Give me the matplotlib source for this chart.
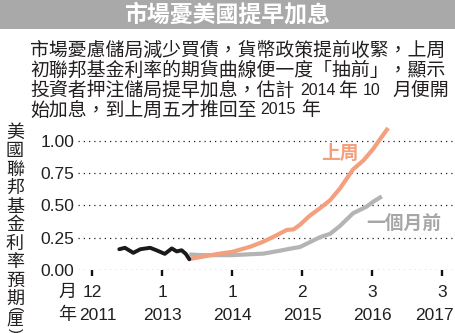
import matplotlib
matplotlib.use("Agg")
import matplotlib.pyplot as plt
from matplotlib.patches import Rectangle
from matplotlib.transforms import ScaledTranslation

plt.rcParams['font.family'] = ['Liberation Sans', 'Noto Sans CJK TC', 'DejaVu Sans']

# ---------------- data ----------------
title = "市場憂美國提早加息"
subtitle_line1 = "市場憂慮儲局減少買債，貨幣政策提前收緊，上周"
subtitle_line2 = "初聯邦基金利率的期貨曲線便一度「抽前」，顯示"
subtitle_line3 = ["投資者押注儲局提早加息，估計", "2014", "年", "10", "月便開"]
subtitle_line4 = ["始加息，到上周五才推回至", "2015", "年"]
ylabel_main = "美國聯邦基金利率預期"
ylabel_unit = "厘"

tick_pos = [0, 1, 2, 3, 4, 5]
tick_months = ["12", "1", "1", "2", "3", "3"]
tick_years = ["2011", "2013", "2014", "2015", "2016", "2017"]
yticks = [0.0, 0.25, 0.5, 0.75, 1.0]

hist_x = [0.39, 0.47, 0.59, 0.69, 0.83, 0.92, 1.04, 1.14, 1.21, 1.28, 1.34, 1.39]
hist_y = [0.161, 0.172, 0.133, 0.161, 0.172, 0.153, 0.125, 0.167, 0.144, 0.153, 0.125, 0.083]

last_week_x = [1.39, 1.6, 1.8, 2.0, 2.26, 2.45, 2.64, 2.78, 2.88, 2.97, 3.11, 3.26,
               3.40, 3.54, 3.73, 3.88, 4.02, 4.11, 4.23]
last_week_y = [0.085, 0.105, 0.125, 0.14, 0.18, 0.22, 0.27, 0.31, 0.315, 0.35, 0.42, 0.48,
               0.54, 0.63, 0.78, 0.85, 0.94, 1.01, 1.10]

month_ago_x = [1.39, 1.6, 2.0, 2.45, 2.69, 2.83, 2.97, 3.11, 3.26, 3.40, 3.54, 3.73,
               3.92, 4.02, 4.14]
month_ago_y = [0.12, 0.115, 0.115, 0.127, 0.15, 0.165, 0.178, 0.215, 0.255, 0.28, 0.34, 0.44,
               0.49, 0.53, 0.57]

label_last_week = "上周"
label_month_ago = "一個月前"

# ---------------- style ----------------
W, H = 455, 333
ORANGE = '#F4A07E'
GRAY = '#B4B4B4'
GRAY_TXT = '#A6A6A6'
TXT = '#231F20'
CJK = ['Noto Sans CJK TC', 'DejaVu Sans']
MIX = ['Liberation Sans', 'Noto Sans CJK TC', 'DejaVu Sans']
SUB_FS = 13.6
NUM_FS = 11.5


def fx(x):
    return x / W


def fy(y):
    return 1 - y / H


fig = plt.figure(figsize=(W / 100, H / 100), dpi=100)
fig.patch.set_facecolor('white')

# title bar
fig.patches.append(Rectangle((0, fy(29)), 1, 29 / H, transform=fig.transFigure,
                             facecolor='#A9A9A9', edgecolor='none', zorder=0))
fig.text(fx(227), fy(15), title, color='white', fontsize=16.5, fontweight='bold',
         family=CJK, ha='center', va='center')

# subtitle
fig.text(fx(30), fy(50.5), subtitle_line1, color=TXT, fontsize=SUB_FS, family=CJK,
         ha='left', va='center')
fig.text(fx(30), fy(70.3), subtitle_line2, color=TXT, fontsize=SUB_FS, family=CJK,
         ha='left', va='center')
y3 = 90.1
fig.text(fx(30), fy(y3), subtitle_line3[0], color=TXT, fontsize=SUB_FS, family=CJK,
         ha='left', va='center')
fig.text(fx(318), fy(y3), subtitle_line3[1], color=TXT, fontsize=NUM_FS, family=MIX,
         ha='center', va='center')
fig.text(fx(348), fy(y3), subtitle_line3[2], color=TXT, fontsize=SUB_FS, family=CJK,
         ha='center', va='center')
fig.text(fx(372), fy(y3), subtitle_line3[3], color=TXT, fontsize=NUM_FS, family=MIX,
         ha='center', va='center')
fig.text(fx(392), fy(y3), subtitle_line3[4], color=TXT, fontsize=SUB_FS, family=CJK,
         ha='left', va='center')
y4 = 109.9
fig.text(fx(30), fy(y4), subtitle_line4[0], color=TXT, fontsize=SUB_FS, family=CJK,
         ha='left', va='center')
fig.text(fx(278), fy(y4), subtitle_line4[1], color=TXT, fontsize=NUM_FS, family=MIX,
         ha='center', va='center')
fig.text(fx(311), fy(y4), subtitle_line4[2], color=TXT, fontsize=SUB_FS, family=CJK,
         ha='center', va='center')

# axes
ax = fig.add_axes([fx(78), fy(270), (453 - 78) / W, (270 - 128) / H])
ax.set_xlim(-0.2, 5.157)
ax.set_ylim(0, 1.1)
for s in ax.spines.values():
    s.set_visible(False)
ax.set_facecolor('none')

ax.set_yticks(yticks, labels=[f"{v:.2f}" for v in yticks])
ax.yaxis.grid(True, color='#222222', linestyle=(0, (1, 3.2)), linewidth=0.9)
ax.tick_params(axis='y', length=0, pad=2.5, labelsize=12.5, labelcolor=TXT)

# months on major ticks, years on (coincident) minor ticks
ax.xaxis.remove_overlapping_locs = False
ax.set_xticks(tick_pos, labels=tick_months)
ax.set_xticks(tick_pos, labels=tick_years, minor=True)
ax.tick_params(axis='x', which='major', length=4.5, width=1.7, color='#111111',
               direction='out', pad=6.1, labelsize=12.5, labelcolor=TXT)
ax.tick_params(axis='x', which='minor', length=0, pad=27.2, labelsize=12.5,
               labelcolor=TXT)
yl = ax.get_xticklabels(minor=True)
yl[0].set_transform(yl[0].get_transform() + ScaledTranslation(0.06, 0, fig.dpi_scale_trans))
yl[-1].set_transform(yl[-1].get_transform() + ScaledTranslation(-0.08, 0, fig.dpi_scale_trans))

ax.plot(month_ago_x, month_ago_y, color=GRAY, lw=3.0, solid_capstyle='butt',
        clip_on=False, zorder=3)
ax.plot(last_week_x, last_week_y, color=ORANGE, lw=3.0, solid_capstyle='butt',
        clip_on=False, zorder=4)
ax.plot(hist_x, hist_y, color='#1A1A1A', lw=2.8, solid_capstyle='round',
        clip_on=False, zorder=5)

ax.text(3.54, 0.905, label_last_week, color=ORANGE, fontsize=13.5, fontweight='bold',
        family=CJK, ha='center', va='center')
ax.text(4.46, 0.357, label_month_ago, color=GRAY_TXT, fontsize=13.5, fontweight='bold',
        family=CJK, ha='center', va='center')

# row headers for x labels
fig.text(fx(67), fy(292), "月", color=TXT, fontsize=13, family=CJK, ha='center', va='center')
fig.text(fx(67), fy(315), "年", color=TXT, fontsize=13, family=CJK, ha='center', va='center')

# vertical y label: stacked characters in one text, unit in parentheses below
fig.text(fx(15), fy(123.5), "\n".join(ylabel_main), color=TXT, fontsize=13, family=CJK,
         ha='center', va='top', linespacing=1.04)
fig.text(fx(15), fy(310), "(", color=TXT, fontsize=11, family=MIX,
         ha='center', va='center', rotation=-90)
fig.text(fx(15), fy(320), ylabel_unit, color=TXT, fontsize=12, family=CJK,
         ha='center', va='center')
fig.text(fx(15), fy(330.3), ")", color=TXT, fontsize=10.5, family=MIX,
         ha='center', va='center', rotation=-90)

fig.savefig('out.png', dpi=100)
